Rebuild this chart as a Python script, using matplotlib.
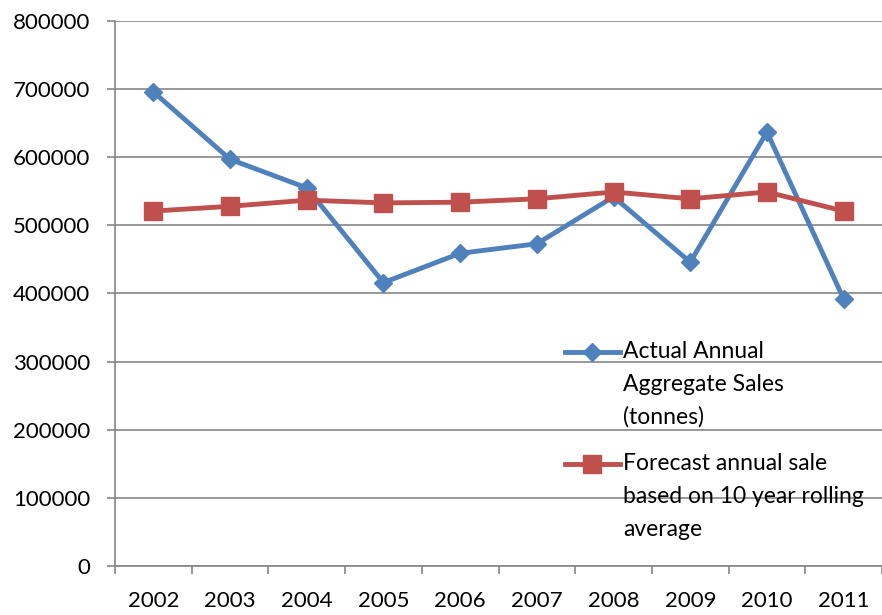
import matplotlib.pyplot as plt
from matplotlib.lines import Line2D

plt.rcParams['font.family'] = ['Lato', 'DejaVu Sans']

years = ['2002', '2003', '2004', '2005', '2006', '2007', '2008', '2009', '2010', '2011']
actual_sales = [696000, 597000, 555000, 416000, 459000, 473000, 542000, 446000, 637000, 392000]
forecast_sales = [521000, 528000, 537000, 533000, 534000, 539000, 549000, 539000, 549000, 521000]

blue = '#4F81BD'
red = '#C0504D'
axis_grey = '#868686'

fig = plt.figure(figsize=(8.82, 6.15), dpi=100)
ax = fig.add_axes([115/882, 49/615, 767/882, 545/615])

x = range(len(years))
ax.plot(x, actual_sales, color=blue, lw=3.5, marker='D', ms=9.5,
        mec=blue, mew=1, zorder=3)
ax.plot(x, forecast_sales, color=red, lw=3.5, marker='s', ms=13,
        mec=red, mew=1, zorder=4)

ax.set_ylim(0, 800000)
ax.set_xlim(-0.5, -0.5 + 767/77)
ax.set_yticks(range(0, 800001, 100000))
ax.set_xticks(list(x))
ax.set_xticklabels(years)
ax.set_xticks([i - 0.5 for i in range(len(years) + 1)], minor=True)

ax.yaxis.grid(True, color=axis_grey, lw=1.2)
ax.set_axisbelow(True)
for side in ['top', 'right']:
    ax.spines[side].set_visible(False)
for side in ['left', 'bottom']:
    ax.spines[side].set_color(axis_grey)
    ax.spines[side].set_linewidth(1.2)

ax.tick_params(axis='y', length=6, width=1.2, color=axis_grey, pad=12,
               labelsize=16)
ax.tick_params(axis='x', which='major', length=0, pad=18, labelsize=16)
ax.tick_params(axis='x', which='minor', length=6, width=1.2, color=axis_grey)

# legend drawn by hand so the sample sits beside the first line of text
def legend_entry(y_px, color, marker, ms, lines):
    y = 1 - y_px / 615
    fig.add_artist(Line2D([565/882, 620/882], [y, y], color=color, lw=3.5,
                          transform=fig.transFigure))
    fig.add_artist(Line2D([592/882], [y], color=color, marker=marker, ms=ms,
                          mec=color, transform=fig.transFigure))
    for i, line in enumerate(lines):
        fig.text(623/882, 1 - (y_px + i * 32.5) / 615, line, fontsize=16.5,
                 va='center', ha='left')

legend_entry(352, blue, 'D', 9.5, ['Actual Annual', 'Aggregate Sales', '(tonnes)'])
legend_entry(464, red, 's', 13, ['Forecast annual sale',
                                 'based on 10 year rolling', 'average'])

fig.savefig('out.png', dpi=100)
